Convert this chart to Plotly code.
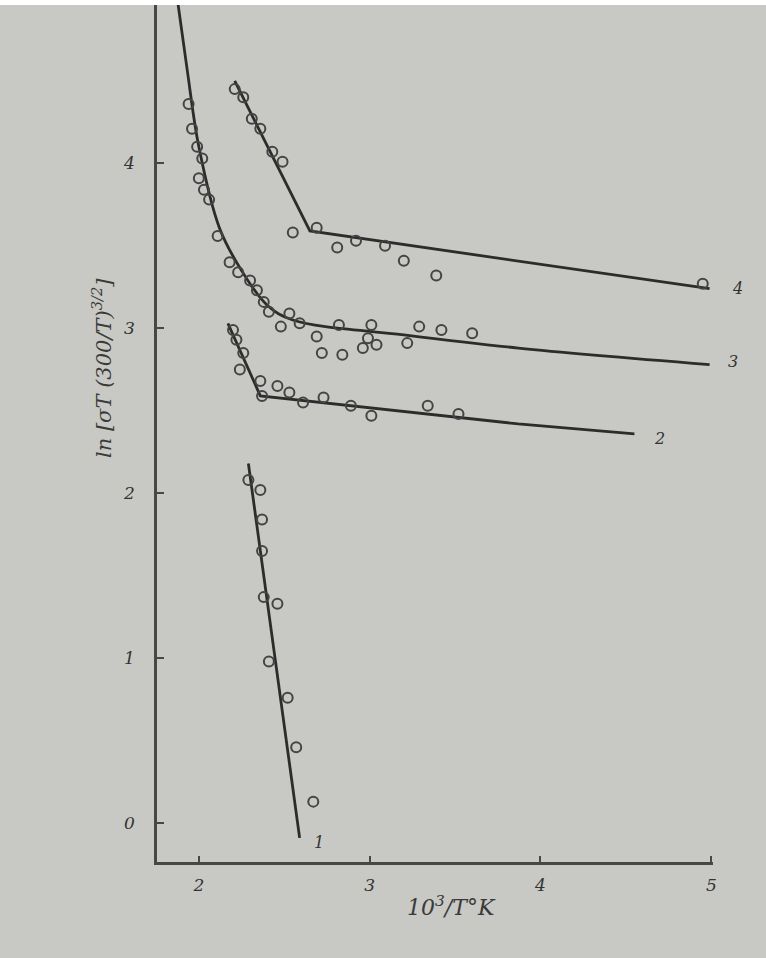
import plotly.graph_objects as go

# ---- data ----
# curve 4
c4_x = [2.21, 2.26, 2.31, 2.36, 2.43, 2.49, 2.55, 2.69, 2.81, 2.92, 3.09, 3.20, 3.39, 4.95]
c4_y = [4.45, 4.40, 4.27, 4.21, 4.07, 4.01, 3.58, 3.61, 3.49, 3.53, 3.50, 3.41, 3.32, 3.27]
c4_fit_x = [2.21, 2.65, 4.99]
c4_fit_y = [4.50, 3.59, 3.24]

# curve 3
c3_x = [1.94, 1.96, 1.99, 2.02, 2.00, 2.03, 2.06, 2.11, 2.18, 2.23, 2.30, 2.34, 2.38, 2.41,
        2.48, 2.53, 2.59, 2.69, 2.72, 2.82, 2.84, 2.96, 2.99, 3.01, 3.04, 3.22, 3.29, 3.42, 3.60]
c3_y = [4.36, 4.21, 4.10, 4.03, 3.91, 3.84, 3.78, 3.56, 3.40, 3.34, 3.29, 3.23, 3.16, 3.10,
        3.01, 3.09, 3.03, 2.95, 2.85, 3.02, 2.84, 2.88, 2.94, 3.02, 2.90, 2.91, 3.01, 2.99, 2.97]
c3_fit_x = [1.86, 1.93, 2.00, 2.12, 2.25, 2.40, 2.55, 3.20, 3.87, 4.99]
c3_fit_y = [5.10, 4.58, 4.10, 3.61, 3.35, 3.14, 3.05, 2.96, 2.88, 2.78]

# curve 2
c2_x = [2.20, 2.22, 2.26, 2.24, 2.36, 2.37, 2.46, 2.53, 2.61, 2.73, 2.89, 3.01, 3.34, 3.52]
c2_y = [2.99, 2.93, 2.85, 2.75, 2.68, 2.59, 2.65, 2.61, 2.55, 2.58, 2.53, 2.47, 2.53, 2.48]
c2_fit_x = [2.17, 2.36, 3.87, 4.55]
c2_fit_y = [3.03, 2.59, 2.42, 2.36]

# curve 1
c1_x = [2.29, 2.36, 2.37, 2.37, 2.38, 2.46, 2.41, 2.52, 2.57, 2.67]
c1_y = [2.08, 2.02, 1.84, 1.65, 1.37, 1.33, 0.98, 0.76, 0.46, 0.13]
c1_fit_x = [2.29, 2.59]
c1_fit_y = [2.18, -0.09]

curve_labels = ["4", "3", "2", "1"]
label_x = [5.20, 5.17, 4.74, 2.66]
label_y = [3.31, 2.80, 2.33, -0.19]

x_ticks = [2, 3, 4, 5]
y_ticks = [0, 1, 2, 3, 4, 5]

X_RANGE = [1.755, 5.01]
Y_RANGE = [-0.236, 4.96]

# ---- styling ----
INK = "#2c2c2c"
MARK = "#444444"
BG = "#c8c9c4"
font_fam = "DejaVu Serif"

fig = go.Figure()

fits = [(c4_fit_x, c4_fit_y, "linear"), (c3_fit_x, c3_fit_y, "spline"),
        (c2_fit_x, c2_fit_y, "linear"), (c1_fit_x, c1_fit_y, "linear")]
for fx, fy, shp in fits:
    line = dict(color=INK, width=2.8, shape=shp)
    if shp == "spline":
        line["smoothing"] = 1.0
    fig.add_trace(go.Scatter(x=fx, y=fy, mode="lines", line=line,
                             hoverinfo="skip", showlegend=False))

for px, py in [(c4_x, c4_y), (c3_x, c3_y), (c2_x, c2_y), (c1_x, c1_y)]:
    fig.add_trace(go.Scatter(x=px, y=py, mode="markers",
                             marker=dict(symbol="circle-open", size=10, color=MARK,
                                         line=dict(width=2, color=MARK)),
                             showlegend=False, cliponaxis=False))

# curve labels (placed in paper coords so they may sit past the axis end)
for t, lx, ly in zip(curve_labels, label_x, label_y):
    fig.add_annotation(x=(lx - X_RANGE[0]) / (X_RANGE[1] - X_RANGE[0]),
                       y=(ly - Y_RANGE[0]) / (Y_RANGE[1] - Y_RANGE[0]),
                       xref="paper", yref="paper", text=t, showarrow=False,
                       font=dict(family=font_fam, size=16, color="#333333", style="italic"))

# axis titles
fig.add_annotation(xref="paper", yref="paper", x=(451 - 157) / 556, y=(862 - 922) / 857,
                   text="10<sup>3</sup>/T°K", showarrow=False,
                   font=dict(family=font_fam, size=22, color="#3a3a3a", style="italic"))
fig.add_annotation(xref="paper", yref="paper", x=(86 - 157) / 556, y=(862 - 368) / 857,
                   text="ln [σT (300/T)<sup>3/2</sup>]", textangle=-90, showarrow=False,
                   font=dict(family=font_fam, size=21, color="#3a3a3a", style="italic"))

# white strip at the very top
fig.add_shape(type="rect", xref="paper", yref="paper", x0=-0.3, x1=1.2,
              y0=1.0, y1=1.0 + 6 / 857, fillcolor="white", line=dict(width=0), layer="above")

fig.update_layout(
    width=766, height=958,
    margin=dict(l=157, r=53, t=5, b=96),
    paper_bgcolor=BG, plot_bgcolor=BG,
    showlegend=False,
    xaxis=dict(range=X_RANGE, tickvals=x_ticks, ticktext=[str(v) for v in x_ticks],
               showgrid=False, zeroline=False, showline=True, linecolor="#474747", linewidth=2.5,
               ticks="inside", ticklen=6, tickwidth=2, tickcolor="#474747",
               tickfont=dict(family=font_fam, size=17, color="#333333", style="italic"),
               ticklabelstandoff=6),
    yaxis=dict(range=Y_RANGE, tickvals=y_ticks, ticktext=[str(v) for v in y_ticks],
               showgrid=False, zeroline=False, showline=True, linecolor="#474747", linewidth=2.5,
               ticks="inside", ticklen=7, tickwidth=2, tickcolor="#474747",
               tickfont=dict(family=font_fam, size=17, color="#333333", style="italic"),
               ticklabelstandoff=16),
)

fig.write_html("out.html", config={"displayModeBar": False},
               post_script="document.body.style.margin='0';")
